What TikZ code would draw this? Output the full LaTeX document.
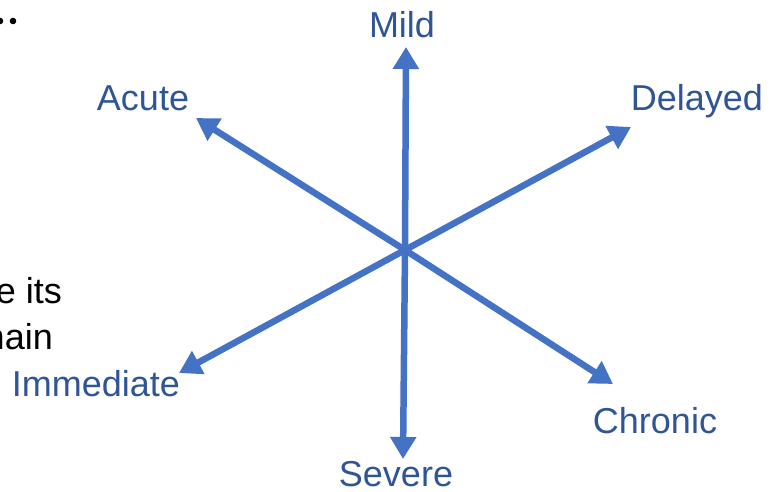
\documentclass[tikz,border=0pt]{standalone}
\usepackage{fontspec}
\setmainfont{Liberation Sans}
\usetikzlibrary{arrows.meta}
\definecolor{arrowblue}{HTML}{4472C4}
\definecolor{labelblue}{HTML}{2F5597}
\begin{document}
\begin{tikzpicture}[x=1pt,y=-1pt,
  axis/.style={draw=arrowblue,line width=6.5pt,-{Triangle[length=22pt,width=25pt]}},
  lab/.style={text=labelblue,font=\fontsize{36}{42}\selectfont,inner sep=0pt,anchor=base},
  blk/.style={text=black,font=\fontsize{36}{42}\selectfont,inner sep=0pt,anchor=base east}]
\useasboundingbox (0,0) rectangle (774,491);
\clip (0,0) rectangle (774,491);
\fill[white] (0,0) rectangle (774,491);
% bullets at top left
\fill (0,21) circle (3.3pt);
\fill (13,21) circle (3.3pt);
% clipped body text
\node[blk] (t1) at (62,303) {e its};
\node[blk] (t2) at (53,349) {nain};
% centre and tips
\coordinate (c) at (405,250);
\coordinate (tmild) at (406,47);
\coordinate (tsev) at (403,459);
\coordinate (tacute) at (196,118);
\coordinate (tdel) at (631,127);
\coordinate (timm) at (179,373);
\coordinate (tchr) at (613,384);
\draw[axis] (c) -- (tmild);
\draw[axis] (c) -- (tsev);
\draw[axis] (c) -- (tacute);
\draw[axis] (c) -- (tdel);
\draw[axis] (c) -- (timm);
\draw[axis] (c) -- (tchr);
% labels
\node[lab] (mild) at (402,37) {Mild};
\node[lab] (acute) at (143,110) {Acute};
\node[lab] (delayed) at (697,110) {Delayed};
\node[lab] (imm) at (96,396) {Immediate};
\node[lab] (chr) at (655,433) {Chronic};
\node[lab] (sev) at (396,486) {Severe};
\end{tikzpicture}
\end{document}
